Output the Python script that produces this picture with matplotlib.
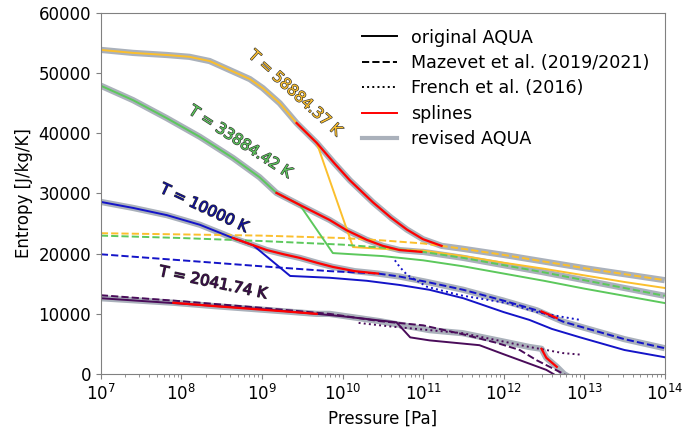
import numpy as np
import matplotlib
matplotlib.use('Agg')
import matplotlib.pyplot as plt
import matplotlib.patheffects as pe

# log10 of pressure [Pa] and entropy [J/kg/K] along each isotherm

# T = 58884.37 K
lp_aqua_58 = [7.0, 7.4, 7.82, 8.1, 8.35, 8.6, 8.85, 9.01, 9.22, 9.43, 9.68, 10.13, 10.5, 11.0, 11.5, 12.0, 12.5, 13.0, 13.5, 14.0]
s_aqua_58 = [53850, 53350, 53000, 52700, 52000, 50500, 49000, 47500, 45000, 41700, 38400, 21100, 20800, 20500, 19600, 18500, 17500, 16400, 15300, 14300]
lp_maz_58 = [7, 8, 9, 10, 10.5, 11, 11.5, 12, 12.5, 13, 13.5, 14]
s_maz_58 = [23400, 23200, 23000, 22600, 22200, 21700, 20800, 19800, 18700, 17600, 16600, 15600]
lp_spl_58 = [9.43, 9.68, 9.9, 10.09, 10.38, 10.6, 10.8, 11.0, 11.23]
s_spl_58 = [41700, 38400, 35000, 32200, 28500, 26000, 24000, 22400, 21300]

# T = 33884.42 K
lp_aqua_33 = [7.0, 7.4, 7.82, 8.23, 8.64, 8.97, 9.18, 9.47, 9.88, 10.5, 11.0, 11.5, 12.0, 12.5, 13.0, 13.5, 14.0]
s_aqua_33 = [47900, 45500, 42500, 39400, 35900, 32700, 30100, 28100, 20100, 19600, 18900, 17900, 16700, 15500, 14200, 13000, 11800]
lp_maz_33 = [7, 8, 9, 10, 10.5, 11, 11.5, 12, 12.5, 13, 13.5, 14]
s_maz_33 = [23000, 22600, 22100, 21500, 21000, 20300, 19300, 18100, 16900, 15600, 14300, 13000]
lp_spl_33 = [9.18, 9.47, 9.84, 10.05, 10.3, 10.5, 10.71, 10.98]
s_spl_33 = [30100, 28100, 25600, 23900, 22300, 21300, 20600, 20300]

# T = 10000 K
lp_aqua_10 = [7.0, 7.4, 7.82, 8.23, 8.64, 8.89, 9.35, 9.84, 10.3, 10.71, 11.08, 11.5, 12.0, 12.32, 12.6, 12.95, 13.5, 14.0]
s_aqua_10 = [28600, 27600, 26400, 24800, 22600, 21400, 16300, 16000, 15500, 14800, 14000, 12600, 10300, 9000, 7500, 6100, 4000, 2800]
lp_maz_10 = [7, 8, 9, 9.84, 10.44, 10.71, 11.05, 11.5, 12.0, 12.41, 12.74, 13.0, 13.5, 14.0]
s_maz_10 = [19900, 18900, 17900, 17100, 16700, 16200, 15300, 14000, 12200, 10600, 8700, 7700, 5800, 4300]
lp_fr_10 = [10.65, 10.71, 10.8, 11.05, 11.46, 12.04, 12.41, 12.73, 12.95]
s_fr_10 = [18900, 17800, 16500, 14500, 13100, 11800, 10300, 9500, 9000]
lp_spl_10 = [8.64, 9.06, 9.27, 9.47, 9.68, 9.88, 10.15, 10.44]
s_spl_10 = [22600, 20600, 19900, 19300, 18500, 17800, 17100, 16700]
lp_spl2_10 = [12.47, 12.56, 12.66]
s_spl2_10 = [10400, 9900, 9300]

# T = 2041.74 K
lp_aqua_2 = [7, 8, 9, 9.68, 10.0, 10.4, 10.67, 10.84, 11.08, 11.7, 12.0, 12.53, 12.62]
s_aqua_2 = [12600, 11700, 10800, 10000, 9600, 9000, 8600, 6100, 5600, 4800, 3300, 700, 0]
lp_maz_2 = [7, 8, 9, 9.84, 10.46, 11.0, 11.5, 11.91, 12.2, 12.41, 12.75, 12.85]
s_maz_2 = [13100, 12100, 11000, 10000, 8800, 8100, 6600, 5200, 4000, 2300, 0, -800]
lp_fr_2 = [10.2, 10.6, 11.08, 11.49, 12.0, 12.32, 12.49, 12.73, 12.98]
s_fr_2 = [8500, 7900, 7300, 6800, 5400, 4500, 4100, 3500, 3200]
lp_spl_2 = [7.9, 8.4, 8.9, 9.3, 9.68]
s_spl_2 = [11850, 11300, 10800, 10400, 10000]
lp_spl2_2 = [12.47, 12.53, 12.66]
s_spl2_2 = [4200, 2700, 1200]

c58 = '#fbbf2d'
c33 = '#5cc85c'
c10 = '#1414c8'
c2 = '#4a0c5a'
grey = '#aab1bb'


def P(lp):
    return 10**np.array(lp)


def join(*parts):
    # stitch the revised curve together from pieces of the other tables
    lp_out, s_out = [], []
    for lp, s, lo, hi in parts:
        for a, b in zip(lp, s):
            if lo <= a <= hi:
                lp_out.append(a)
                s_out.append(b)
    return P(lp_out), s_out


rev_58 = join((lp_aqua_58, s_aqua_58, 7, 9.43), (lp_spl_58, s_spl_58, 9.5, 11.23),
              (lp_maz_58, s_maz_58, 11.3, 14))
rev_33 = join((lp_aqua_33, s_aqua_33, 7, 9.18), (lp_spl_33, s_spl_33, 9.2, 10.98),
              (lp_maz_33, s_maz_33, 11.0, 14))
rev_10 = join((lp_aqua_10, s_aqua_10, 7, 8.64), (lp_spl_10, s_spl_10, 8.7, 10.44),
              (lp_maz_10, s_maz_10, 10.5, 14))
rev_2 = join((lp_aqua_2, s_aqua_2, 7, 7.5), (lp_spl_2, s_spl_2, 7.9, 9.68),
             (lp_maz_2, s_maz_2, 9.7, 10.46), (lp_fr_2, s_fr_2, 11.0, 12.46),
             (lp_spl2_2, s_spl2_2, 12.47, 12.66), (lp_maz_2, s_maz_2, 12.7, 13))

fig = plt.figure(figsize=(6.86, 4.29), dpi=100)
ax = fig.add_axes([0.147, 0.128, 0.822, 0.842])

# thick grey revised curves underneath
for x, y in [rev_58, rev_33, rev_10, rev_2]:
    ax.plot(x, y, color=grey, lw=4.5, solid_capstyle='butt', zorder=1)

ax.plot(P(lp_aqua_58), s_aqua_58, color=c58, lw=1.4, zorder=2)
ax.plot(P(lp_maz_58), s_maz_58, color=c58, lw=1.4, ls='--', zorder=2)
ax.plot(P(lp_aqua_33), s_aqua_33, color=c33, lw=1.4, zorder=2)
ax.plot(P(lp_maz_33), s_maz_33, color=c33, lw=1.4, ls='--', zorder=2)
ax.plot(P(lp_aqua_10), s_aqua_10, color=c10, lw=1.4, zorder=2)
ax.plot(P(lp_maz_10), s_maz_10, color=c10, lw=1.4, ls='--', zorder=2)
ax.plot(P(lp_fr_10), s_fr_10, color=c10, lw=1.4, ls=':', zorder=2)
ax.plot(P(lp_aqua_2), s_aqua_2, color=c2, lw=1.4, zorder=2)
ax.plot(P(lp_maz_2), s_maz_2, color=c2, lw=1.4, ls='--', zorder=2)
ax.plot(P(lp_fr_2), s_fr_2, color=c2, lw=1.4, ls=':', zorder=2)

for lp, s in [(lp_spl_58, s_spl_58), (lp_spl_33, s_spl_33), (lp_spl_10, s_spl_10),
              (lp_spl2_10, s_spl2_10), (lp_spl_2, s_spl_2), (lp_spl2_2, s_spl2_2)]:
    ax.plot(P(lp), s, color='red', lw=1.6, zorder=3)

# isotherm labels
stroke = [pe.withStroke(linewidth=0.9, foreground='#333333')]
labels = [('T = 58884.37 K', 9.41, 46700, -42, c58),
          ('T = 33884.42 K', 8.73, 38600, -33, c33),
          ('T = 10000 K', 8.28, 27600, -25, '#10109a'),
          ('T = 2041.74 K', 8.39, 15200, -12, '#3a0a4a')]
for txt, lp, s, rot, col in labels:
    ax.text(10**lp, s, txt, rotation=rot, rotation_mode='anchor', ha='center', va='center',
            fontsize=11, color=col, path_effects=stroke, zorder=4)

# legend with black proxies
ax.plot([], [], color='k', lw=1.4, label='original AQUA')
ax.plot([], [], color='k', lw=1.4, ls='--', label='Mazevet et al. (2019/2021)')
ax.plot([], [], color='k', lw=1.4, ls=':', label='French et al. (2016)')
ax.plot([], [], color='red', lw=1.4, label='splines')
ax.plot([], [], color=grey, lw=3, label='revised AQUA')
ax.legend(loc='upper right', frameon=False, fontsize=12.6, labelspacing=0.42)

ax.set_xscale('log')
ax.set_xlim(1e7, 1e14)
ax.set_ylim(0, 60000)
ax.set_xlabel('Pressure [Pa]', fontsize=12)
ax.set_ylabel('Entropy [J/kg/K]', fontsize=12)
ax.tick_params(labelsize=12, color='grey')
ax.tick_params(which='minor', color='grey')
for sp in ax.spines.values():
    sp.set_color('grey')

plt.savefig('out.png')
